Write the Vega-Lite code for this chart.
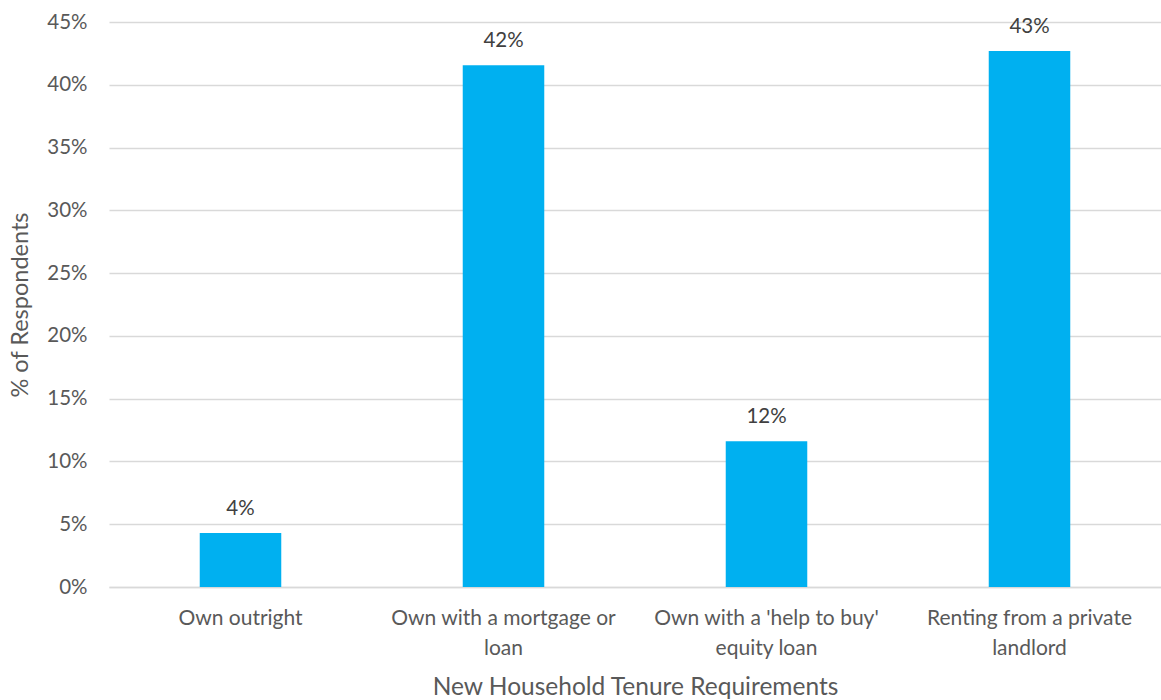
{
  "$schema": "https://vega.github.io/schema/vega-lite/v6.json",
  "width": 1052,
  "height": 565,
  "autosize": {"type": "none"},
  "padding": {"left": 109, "top": 22, "right": 0, "bottom": 113},
  "background": "white",
  "config": {
    "view": {"stroke": null},
    "font": "Lato",
    "axis": {"labelFont": "Lato", "titleFont": "Lato", "labelColor": "#595959", "titleColor": "#595959", "titleFontWeight": "normal"}
  },
  "data": {
    "values": [
      {"tenure": "Own outright", "pct": 0.043},
      {"tenure": "Own with a mortgage or loan", "pct": 0.4155},
      {"tenure": "Own with a 'help to buy' equity loan", "pct": 0.116},
      {"tenure": "Renting from a private landlord", "pct": 0.427}
    ]
  },
  "encoding": {
    "x": {
      "field": "tenure",
      "type": "nominal",
      "sort": null,
      "scale": {"paddingInner": 0.69, "paddingOuter": 0.345},
      "axis": {
        "title": "New Household Tenure Requirements",
        "titleFontSize": 24.5,
        "titlePadding": 17,
        "labelFontSize": 21,
        "labelAngle": 0,
        "labelPadding": 20,
        "labelLineHeight": 30,
        "labelLimit": 0,
        "ticks": false,
        "domain": true,
        "domainColor": "#d9d9d9",
        "domainWidth": 1.5,
        "labelExpr": "datum.value == 'Own with a mortgage or loan' ? ['Own with a mortgage or', 'loan'] : datum.value == \"Own with a 'help to buy' equity loan\" ? [\"Own with a 'help to buy'\", 'equity loan'] : datum.value == 'Renting from a private landlord' ? ['Renting from a private', 'landlord'] : datum.value"
      }
    }
  },
  "layer": [
    {
      "mark": {"type": "bar", "color": "#00b0f0"},
      "encoding": {
        "y": {
          "field": "pct",
          "type": "quantitative",
          "scale": {"domain": [0, 0.45], "nice": false},
          "axis": {
            "title": "% of Respondents",
            "titleFontSize": 23.5,
            "titlePadding": 14,
            "format": ".0%",
            "values": [0, 0.05, 0.1, 0.15, 0.2, 0.25, 0.3, 0.35, 0.4, 0.45],
            "labelFontSize": 20.5,
            "labelPadding": 22,
            "ticks": false,
            "domain": false,
            "gridColor": "#d9d9d9",
            "gridWidth": 1.5
          }
        }
      }
    },
    {
      "mark": {"type": "text", "fontSize": 20.5, "color": "#404040", "baseline": "middle", "dy": -24, "font": "Lato"},
      "encoding": {
        "y": {"field": "pct", "type": "quantitative"},
        "text": {"field": "pct", "type": "quantitative", "format": ".0%"}
      }
    }
  ]
}
